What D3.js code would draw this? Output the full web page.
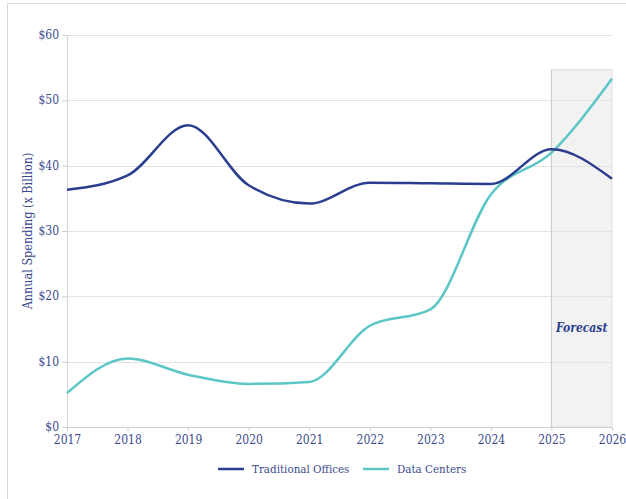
<!DOCTYPE html>
<html>
<head>
<meta charset="utf-8">
<script src="https://cdn.jsdelivr.net/npm/d3@7"></script>
<style>
  html, body { margin: 0; padding: 0; background: #fff; }
  svg { display: block; }
  svg text { font-family: "DejaVu Serif Condensed", "DejaVu Serif", serif; font-stretch: condensed; }
</style>
</head>
<body>
<svg id="chart" width="626" height="499"></svg>
<script>
// Annual spending, billions of dollars
const years = [2017, 2018, 2019, 2020, 2021, 2022, 2023, 2024, 2025, 2026];
const traditionalOffices = [36.3, 38.5, 46.2, 37.0, 34.2, 37.4, 37.3, 37.2, 42.5, 38.0];
const dataCenters = [5.2, 10.5, 8.0, 6.6, 6.9, 15.5, 18.0, 35.6, 42.0, 53.3];
const yTicks = [0, 10, 20, 30, 40, 50, 60];
const seriesNames = ["Traditional Offices", "Data Centers"];
const forecastStart = 2025;
const forecastEnd = 2026;
const forecastTop = 54.7;

const colors = { offices: "#2a3d8f", centers: "#5cc6c6", text: "#3b4a8e", grid: "#e3e3e3" };

const svg = d3.select("#chart");
const margin = { left: 67, right: 14, top: 35, bottom: 72 };
const W = 626, H = 499;

const x = d3.scaleLinear().domain([2017, 2026]).range([margin.left, W - margin.right]);
const y = d3.scaleLinear().domain([0, 60]).range([H - margin.bottom, margin.top]);

// outer panel frame
svg.append("path")
  .attr("d", `M7.5,${H} V3.5 H${W}`)
  .attr("fill", "none").attr("stroke", "#d9d9d9").attr("stroke-width", 1);

// forecast band
svg.append("rect")
  .attr("x", x(forecastStart)).attr("y", y(forecastTop))
  .attr("width", x(forecastEnd) - x(forecastStart))
  .attr("height", y(0) - y(forecastTop))
  .attr("fill", "#f2f2f2").attr("stroke", "#e0e0e0").attr("stroke-width", 1);

// horizontal gridlines
svg.append("g").selectAll("line").data(yTicks.filter(d => d > 0)).join("line")
  .attr("x1", x(2017)).attr("x2", x(2026))
  .attr("y1", d => Math.round(y(d)) + 0.5).attr("y2", d => Math.round(y(d)) + 0.5)
  .attr("stroke", colors.grid).attr("stroke-width", 1);

// forecast divider
svg.append("line")
  .attr("x1", x(forecastStart)).attr("x2", x(forecastStart))
  .attr("y1", y(forecastTop)).attr("y2", y(0))
  .attr("stroke", "#cfcfcf").attr("stroke-width", 1.2);

// y axis
const yAxis = svg.append("g")
  .attr("transform", `translate(${x(2017)},0)`)
  .call(d3.axisLeft(y).tickValues(yTicks).tickFormat(d => "$" + d).tickSize(5).tickPadding(3));
yAxis.attr("font-family", null);
yAxis.select(".domain").attr("stroke", "#d6d6d6");
yAxis.selectAll(".tick line").attr("stroke", "#cfcfcf");
yAxis.selectAll("text").attr("fill", colors.text).attr("font-size", 12).attr("dy", "0.3em");

// x axis
const xAxis = svg.append("g")
  .attr("transform", `translate(0,${y(0)})`)
  .call(d3.axisBottom(x).tickValues(years).tickFormat(d3.format("d")).tickSize(4).tickPadding(4));
xAxis.attr("font-family", null);
xAxis.select(".domain").attr("stroke", "#cfcfcf");
xAxis.selectAll(".tick line").attr("stroke", "#cfcfcf");
xAxis.selectAll("text").attr("fill", colors.text).attr("font-size", 12);

// y axis title
svg.append("text")
  .attr("transform", `translate(32,${(y(0) + y(60)) / 2}) rotate(-90)`)
  .attr("text-anchor", "middle")
  .attr("fill", colors.text).attr("font-size", 12.5)
  .text("Annual Spending (x Billion)");

// series lines
const line = d3.line().x((d, i) => x(years[i])).y(d => y(d)).curve(d3.curveMonotoneX);

svg.append("path").datum(dataCenters)
  .attr("d", line).attr("fill", "none")
  .attr("stroke", colors.centers).attr("stroke-width", 2.5);

svg.append("path").datum(traditionalOffices)
  .attr("d", line).attr("fill", "none")
  .attr("stroke", colors.offices).attr("stroke-width", 2.5);

// forecast label
svg.append("text")
  .attr("x", (x(forecastStart) + x(forecastEnd)) / 2).attr("y", 332)
  .attr("text-anchor", "middle")
  .attr("fill", colors.offices).attr("font-size", 12)
  .attr("font-style", "italic").attr("font-weight", "bold")
  .text("Forecast");

// legend
const legend = svg.append("g");
const legendItems = [
  { name: seriesNames[0], color: colors.offices, x: 218 },
  { name: seriesNames[1], color: colors.centers, x: 363 }
];
legendItems.forEach(item => {
  legend.append("line")
    .attr("x1", item.x).attr("x2", item.x + 26)
    .attr("y1", 469).attr("y2", 469)
    .attr("stroke", item.color).attr("stroke-width", 2.5);
  legend.append("text")
    .attr("x", item.x + 34).attr("y", 473)
    .attr("fill", colors.text).attr("font-size", 11.5)
    .text(item.name);
});
</script>
</body>
</html>
